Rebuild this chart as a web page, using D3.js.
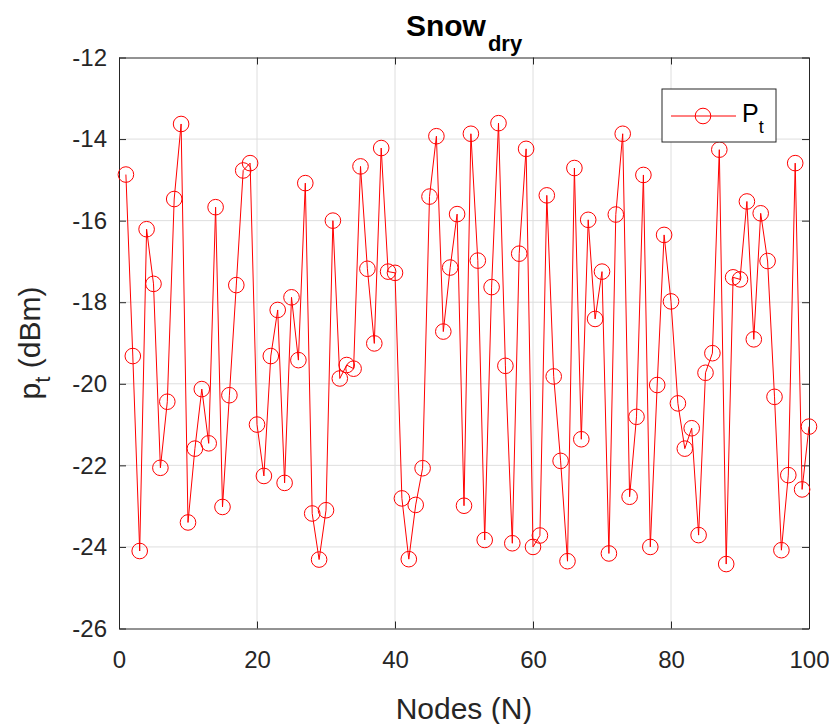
<!DOCTYPE html>
<html>
<head>
<meta charset="utf-8">
<script src="https://cdn.jsdelivr.net/npm/d3@7"></script>
<style>
  body { margin: 0; background: #fff; }
  text { font-family: "Liberation Sans", Arial, sans-serif; }
</style>
</head>
<body>
<div id="chart"></div>
<script>
// power per node
var nodes = d3.range(1, 101);
var pt = [
  -14.87, -19.32, -24.10, -16.21, -17.55, -22.06, -20.44, -15.47, -13.63, -23.40,
  -21.59, -20.13, -21.46, -15.67, -23.02, -20.28, -17.58, -14.77, -14.59, -21.00,
  -22.26, -19.32, -18.19, -22.43, -17.88, -19.42, -15.08, -23.18, -24.31, -23.10,
  -16.00, -19.87, -19.54, -19.63, -14.67, -17.18, -19.01, -14.22, -17.25, -17.28,
  -22.81, -24.30, -22.97, -22.07, -15.41, -13.93, -18.72, -17.15, -15.84, -22.99,
  -13.87, -16.98, -23.83, -17.63, -13.61, -19.56, -23.91, -16.81, -14.24, -24.00,
  -23.72, -15.38, -19.82, -21.89, -24.35, -14.71, -21.36, -15.98, -18.41, -17.25,
  -24.16, -15.85, -13.87, -22.77, -20.81, -14.88, -24.00, -20.03, -16.35, -17.98,
  -20.48, -21.59, -21.09, -23.71, -19.73, -19.25, -14.26, -24.42, -17.39, -17.44,
  -15.53, -18.91, -15.82, -16.99, -20.32, -24.08, -22.24, -14.59, -22.59, -21.05
];
var xTicks = [0, 20, 40, 60, 80, 100];
var yTicks = [-12, -14, -16, -18, -20, -22, -24, -26];

var W = 829, H = 724;
var mLeft = 119, mRight = 809, mTop = 57.5, mBottom = 628.5;
var axisColor = '#262626';

var svg = d3.select('#chart').append('svg')
  .attr('width', W)
  .attr('height', H);

var x = d3.scaleLinear().domain([0, 100]).range([mLeft, mRight]);
var y = d3.scaleLinear().domain([-26, -12]).range([mBottom, mTop]);

// grid
svg.append('g').selectAll('line')
  .data(xTicks.slice(1, -1))
  .enter().append('line')
  .attr('x1', d => x(d)).attr('x2', d => x(d))
  .attr('y1', mTop).attr('y2', mBottom)
  .attr('stroke', '#dedede').attr('stroke-width', 1);
svg.append('g').selectAll('line')
  .data(yTicks.slice(1, -1))
  .enter().append('line')
  .attr('y1', d => y(d)).attr('y2', d => y(d))
  .attr('x1', mLeft).attr('x2', mRight)
  .attr('stroke', '#dedede').attr('stroke-width', 1);

// axes (ticks inside, matlab style), plain hyphen for minus
var fmt = d => String(d);
var xAxis = d3.axisBottom(x).tickValues(xTicks).tickFormat(fmt).tickSizeInner(-7).tickSizeOuter(0).tickPadding(22);
var yAxis = d3.axisLeft(y).tickValues(yTicks).tickFormat(fmt).tickSizeInner(-7).tickSizeOuter(0).tickPadding(12);
var xTop = d3.axisTop(x).tickValues(xTicks).tickSizeInner(-7).tickSizeOuter(0).tickFormat('');
var yRight = d3.axisRight(y).tickValues(yTicks).tickSizeInner(-7).tickSizeOuter(0).tickFormat('');

function styleAxis(g) {
  g.attr('font-size', null).attr('font-family', null);
  g.select('.domain').attr('stroke', axisColor);
  g.selectAll('.tick line').attr('stroke', axisColor);
  g.selectAll('.tick text')
    .attr('fill', axisColor)
    .style('font-size', '24px');
}

svg.append('g').attr('transform', `translate(0,${mBottom})`).call(xAxis).call(styleAxis);
svg.append('g').attr('transform', `translate(${mLeft},0)`).call(yAxis).call(styleAxis);
svg.append('g').attr('transform', `translate(0,${mTop})`).call(xTop).call(styleAxis);
svg.append('g').attr('transform', `translate(${mRight},0)`).call(yRight).call(styleAxis);

// data
var line = d3.line().x((d, i) => x(nodes[i])).y(d => y(d));
svg.append('path')
  .datum(pt)
  .attr('d', line)
  .attr('fill', 'none')
  .attr('stroke', '#ff0000')
  .attr('stroke-width', 1);

svg.append('g').selectAll('circle')
  .data(pt)
  .enter().append('circle')
  .attr('cx', (d, i) => x(nodes[i]))
  .attr('cy', d => y(d))
  .attr('r', 7.8)
  .attr('fill', 'none')
  .attr('stroke', '#ff0000')
  .attr('stroke-width', 1);

// title
var title = svg.append('text')
  .attr('x', (mLeft + mRight) / 2)
  .attr('y', 36)
  .attr('text-anchor', 'middle')
  .attr('fill', '#000')
  .style('font-size', '30px')
  .style('font-weight', 'bold');
title.append('tspan').text('Snow');
title.append('tspan').attr('dx', 2).attr('dy', 15).style('font-size', '22px').text('dry');

// axis labels
svg.append('text')
  .attr('x', (mLeft + mRight) / 2)
  .attr('y', 719)
  .attr('text-anchor', 'middle')
  .attr('fill', axisColor)
  .style('font-size', '30px')
  .text('Nodes (N)');

var yl = svg.append('text')
  .attr('transform', `translate(40,${(mTop + mBottom) / 2}) rotate(-90)`)
  .attr('text-anchor', 'middle')
  .attr('fill', axisColor)
  .style('font-size', '30px');
yl.append('tspan').text('p');
yl.append('tspan').attr('dy', 10).style('font-size', '22px').text('t');
yl.append('tspan').attr('dy', -10).text(' (dBm)');

// legend
var lg = svg.append('g').attr('transform', 'translate(662,89)');
lg.append('rect')
  .attr('width', 114).attr('height', 53)
  .attr('fill', '#fff')
  .attr('stroke', axisColor).attr('stroke-width', 1);
lg.append('line')
  .attr('x1', 9).attr('x2', 74).attr('y1', 27).attr('y2', 27)
  .attr('stroke', '#ff0000').attr('stroke-width', 1);
lg.append('circle')
  .attr('cx', 41).attr('cy', 27).attr('r', 7.8)
  .attr('fill', 'none').attr('stroke', '#ff0000');
var lt = lg.append('text')
  .attr('x', 80).attr('y', 33)
  .attr('fill', '#000')
  .style('font-size', '25px');
lt.append('tspan').text('P');
lt.append('tspan').attr('dy', 11).style('font-size', '18px').text('t');
</script>
</body>
</html>
